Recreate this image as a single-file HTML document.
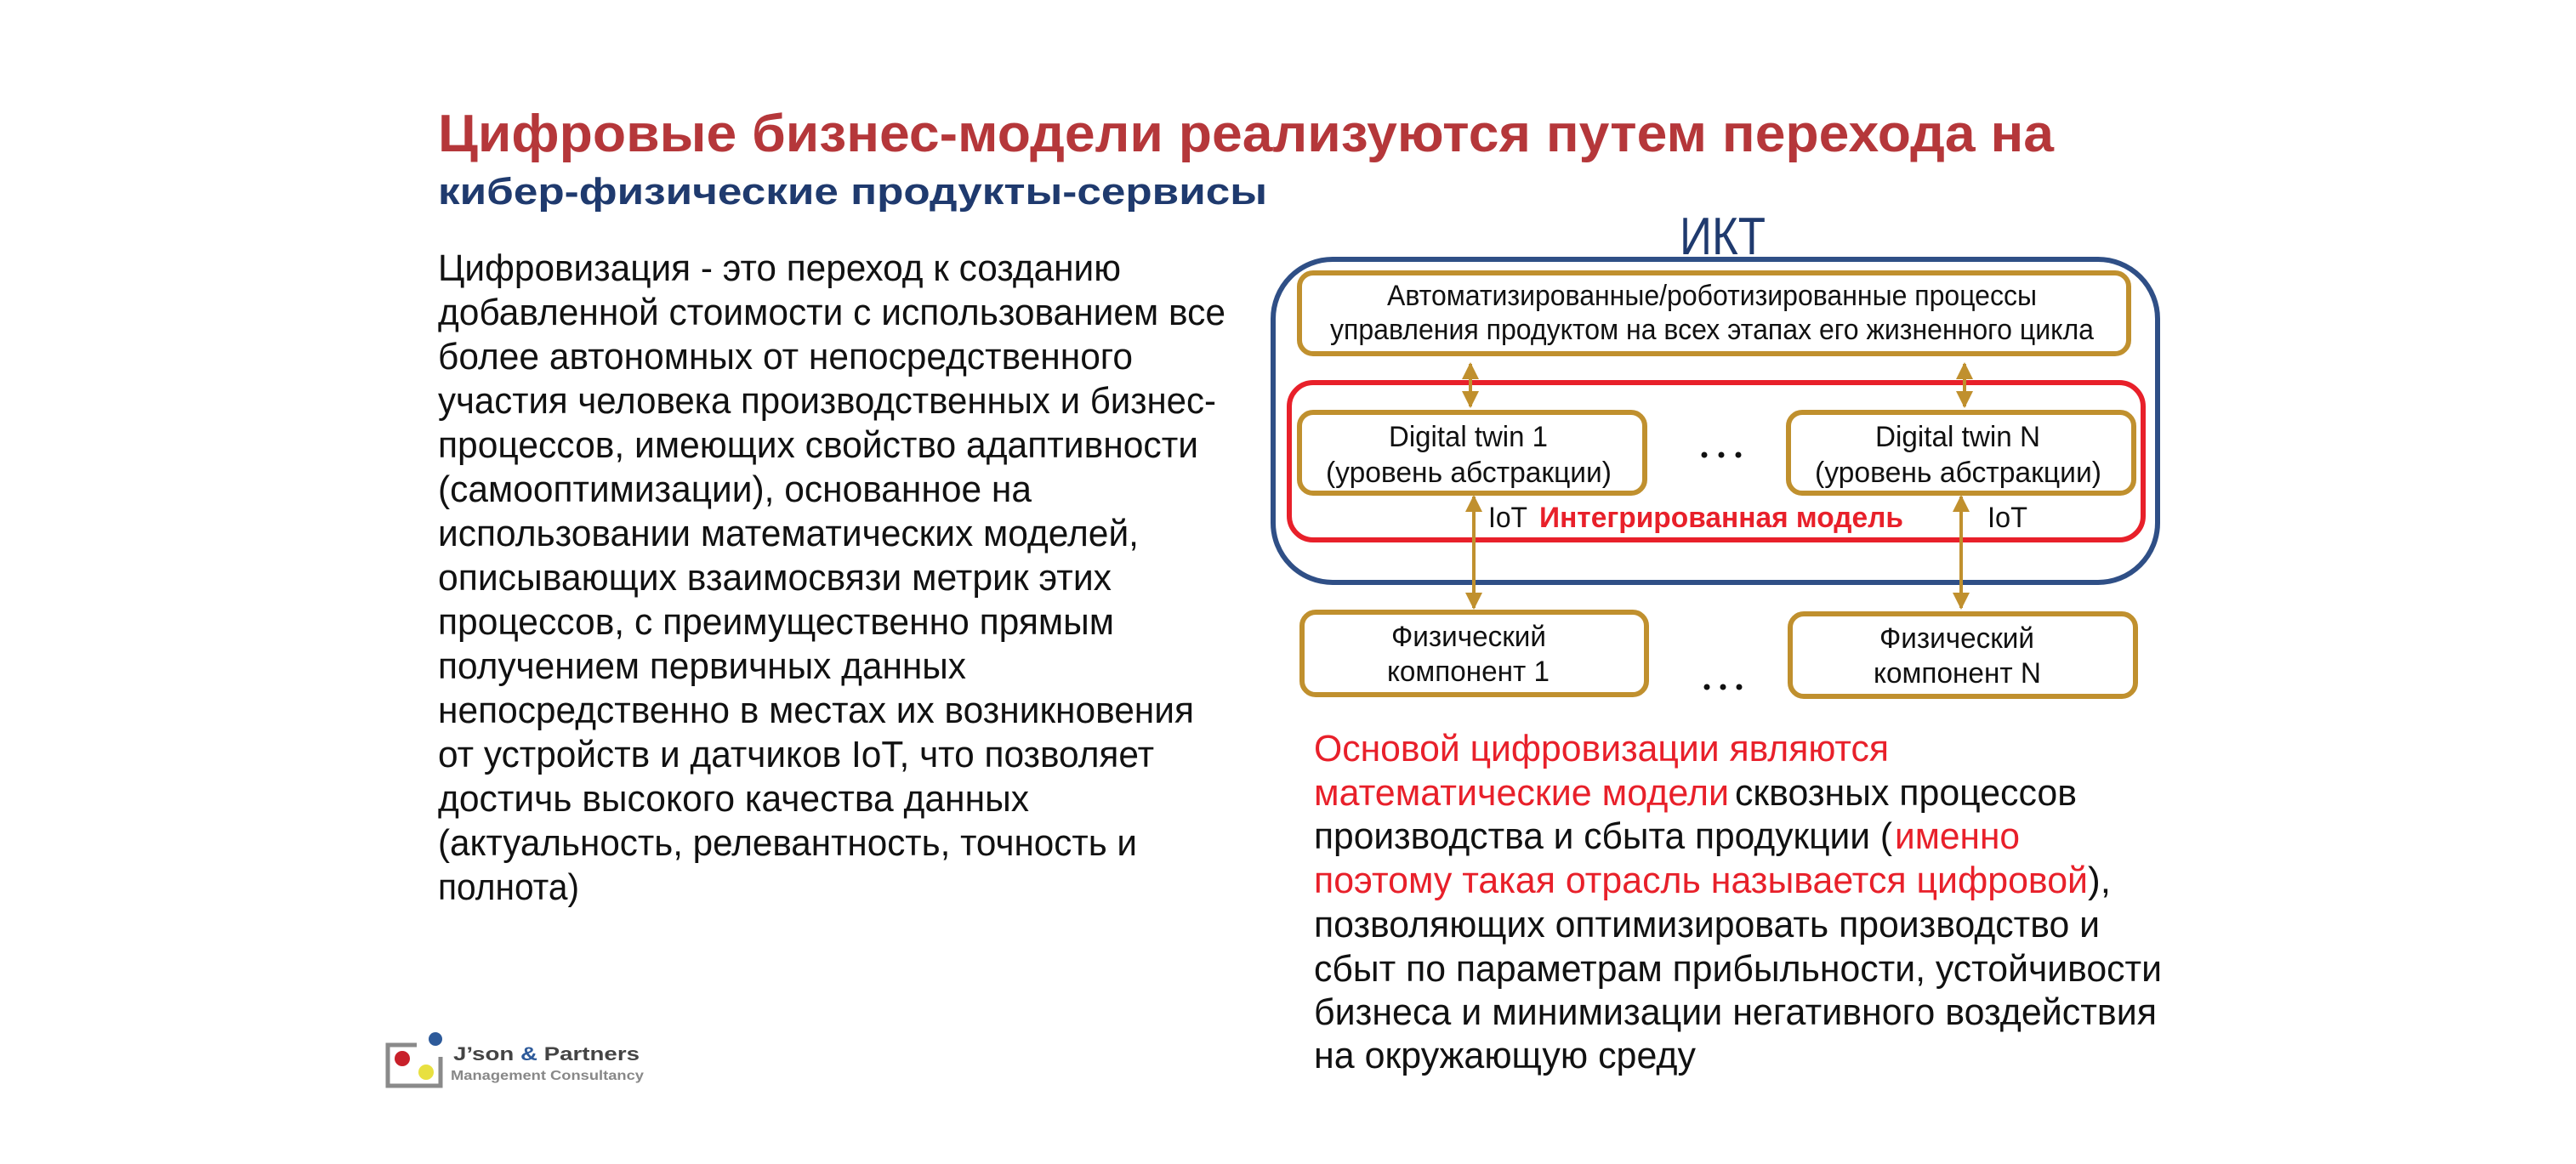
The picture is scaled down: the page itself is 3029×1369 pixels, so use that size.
<!DOCTYPE html>
<html><head><meta charset="utf-8"><style>
html,body{margin:0;padding:0;background:#fff;}
svg{display:block;}
</style></head><body>
<svg width="3029" height="1369" viewBox="0 0 3029 1369" xmlns="http://www.w3.org/2000/svg">
<defs>
<marker id="ah" viewBox="0 0 10 10" refX="9" refY="5" markerWidth="5" markerHeight="5.5" orient="auto-start-reverse" markerUnits="strokeWidth"><path d="M0,0 L10,5 L0,10 z" fill="#c0902e"/></marker>
</defs>
<rect width="3029" height="1369" fill="#fff"/>
<g font-family="Liberation Sans, sans-serif" font-weight="bold">
<text x="515" y="178" font-size="62" fill="#b5373a" textLength="1900" lengthAdjust="spacingAndGlyphs">Цифровые бизнес-модели реализуются путем перехода на</text>
<text x="515" y="240" font-size="44" fill="#1f3a6e" textLength="975" lengthAdjust="spacingAndGlyphs">кибер-физические продукты-сервисы</text>
</g>
<g font-family="Liberation Sans, sans-serif" font-size="44" fill="#111">
<text x="515" y="330" textLength="803" lengthAdjust="spacingAndGlyphs">Цифровизация - это переход к созданию</text>
<text x="515" y="382" textLength="926" lengthAdjust="spacingAndGlyphs">добавленной стоимости с использованием все</text>
<text x="515" y="434" textLength="817" lengthAdjust="spacingAndGlyphs">более автономных от непосредственного</text>
<text x="515" y="486" textLength="915" lengthAdjust="spacingAndGlyphs">участия человека производственных и бизнес-</text>
<text x="515" y="538" textLength="894" lengthAdjust="spacingAndGlyphs">процессов, имеющих свойство адаптивности</text>
<text x="515" y="590" textLength="698" lengthAdjust="spacingAndGlyphs">(самооптимизации), основанное на</text>
<text x="515" y="642" textLength="824" lengthAdjust="spacingAndGlyphs">использовании математических моделей,</text>
<text x="515" y="694" textLength="792" lengthAdjust="spacingAndGlyphs">описывающих взаимосвязи метрик этих</text>
<text x="515" y="746" textLength="795" lengthAdjust="spacingAndGlyphs">процессов, с преимущественно прямым</text>
<text x="515" y="798" textLength="621" lengthAdjust="spacingAndGlyphs">получением первичных данных</text>
<text x="515" y="850" textLength="889" lengthAdjust="spacingAndGlyphs">непосредственно в местах их возникновения</text>
<text x="515" y="902" textLength="842" lengthAdjust="spacingAndGlyphs">от устройств и датчиков IoT, что позволяет</text>
<text x="515" y="954" textLength="695" lengthAdjust="spacingAndGlyphs">достичь высокого качества данных</text>
<text x="515" y="1006" textLength="822" lengthAdjust="spacingAndGlyphs">(актуальность, релевантность, точность и</text>
<text x="515" y="1058" textLength="166" lengthAdjust="spacingAndGlyphs">полнота)</text>
</g>
<text x="1975" y="299" font-family="Liberation Sans, sans-serif" font-size="62" fill="#1f3a6e" textLength="101" lengthAdjust="spacingAndGlyphs">ИКТ</text>
<rect x="1497" y="305" width="1040" height="380" rx="70" fill="none" stroke="#2f4f86" stroke-width="6"/>
<rect x="1528" y="321" width="975" height="95" rx="16" fill="none" stroke="#c0902e" stroke-width="6"/>
<rect x="1516" y="450" width="1004" height="185" rx="28" fill="none" stroke="#e8202a" stroke-width="6"/>
<rect x="1528" y="485" width="406" height="95" rx="16" fill="none" stroke="#c0902e" stroke-width="6"/>
<rect x="2103" y="485" width="406" height="95" rx="16" fill="none" stroke="#c0902e" stroke-width="6"/>
<rect x="1531" y="720" width="405" height="97" rx="16" fill="none" stroke="#c0902e" stroke-width="6"/>
<rect x="2105" y="722" width="406" height="97" rx="16" fill="none" stroke="#c0902e" stroke-width="6"/>
<g stroke="#c0902e" stroke-width="4" marker-start="url(#ah)" marker-end="url(#ah)">
<line x1="1729" y1="428" x2="1729" y2="478"/>
<line x1="2310" y1="428" x2="2310" y2="478"/>
<line x1="1733" y1="584" x2="1733" y2="715"/>
<line x1="2306" y1="584" x2="2306" y2="715"/>
</g>
<g font-family="Liberation Sans, sans-serif" font-size="34" fill="#111">
<text x="1631" y="359" textLength="764" lengthAdjust="spacingAndGlyphs">Автоматизированные/роботизированные процессы</text>
<text x="1564" y="399" textLength="898" lengthAdjust="spacingAndGlyphs">управления продуктом на всех этапах его жизненного цикла</text>
<text x="1633" y="525" textLength="187" lengthAdjust="spacingAndGlyphs">Digital twin 1</text>
<text x="1559" y="567" textLength="336" lengthAdjust="spacingAndGlyphs">(уровень абстракции)</text>
<text x="2205" y="525" textLength="194" lengthAdjust="spacingAndGlyphs">Digital twin N</text>
<text x="2134" y="567" textLength="337" lengthAdjust="spacingAndGlyphs">(уровень абстракции)</text>
<text x="1636" y="760" textLength="182" lengthAdjust="spacingAndGlyphs">Физический</text>
<text x="1631" y="801" textLength="191" lengthAdjust="spacingAndGlyphs">компонент 1</text>
<text x="2210" y="762" textLength="182" lengthAdjust="spacingAndGlyphs">Физический</text>
<text x="2203" y="803" textLength="197" lengthAdjust="spacingAndGlyphs">компонент N</text>
<text x="1750" y="620" textLength="46" lengthAdjust="spacingAndGlyphs">IoT</text>
<text x="2337" y="620" textLength="47" lengthAdjust="spacingAndGlyphs">IoT</text>
<text x="1810" y="620" font-weight="bold" fill="#e8202a" textLength="428" lengthAdjust="spacingAndGlyphs">Интегрированная модель</text>
</g>
<g fill="#111">
<circle cx="2004" cy="535" r="3.5"/><circle cx="2024" cy="535" r="3.5"/><circle cx="2044" cy="535" r="3.5"/>
<circle cx="2007" cy="808" r="3.5"/><circle cx="2026" cy="808" r="3.5"/><circle cx="2045" cy="808" r="3.5"/>
</g>
<g font-family="Liberation Sans, sans-serif" font-size="44" fill="#111">
<text x="1545" y="895" fill="#e8202a" textLength="676" lengthAdjust="spacingAndGlyphs">Основой цифровизации являются</text>
<text x="1545" y="947"><tspan fill="#e8202a" textLength="488" lengthAdjust="spacingAndGlyphs">математические модели</tspan><tspan x="2040" textLength="402" lengthAdjust="spacingAndGlyphs">сквозных процессов</tspan></text>
<text x="1545" y="998"><tspan textLength="680" lengthAdjust="spacingAndGlyphs">производства и сбыта продукции (</tspan><tspan x="2228" fill="#e8202a" textLength="147" lengthAdjust="spacingAndGlyphs">именно</tspan></text>
<text x="1545" y="1050"><tspan fill="#e8202a" textLength="910" lengthAdjust="spacingAndGlyphs">поэтому такая отрасль называется цифровой</tspan><tspan x="2455" textLength="27" lengthAdjust="spacingAndGlyphs">),</tspan></text>
<text x="1545" y="1102" textLength="924" lengthAdjust="spacingAndGlyphs">позволяющих оптимизировать производство и</text>
<text x="1545" y="1154" textLength="997" lengthAdjust="spacingAndGlyphs">сбыт по параметрам прибыльности, устойчивости</text>
<text x="1545" y="1205" textLength="991" lengthAdjust="spacingAndGlyphs">бизнеса и минимизации негативного воздействия</text>
<text x="1545" y="1256" textLength="449" lengthAdjust="spacingAndGlyphs">на окружающую среду</text>
</g>
<path d="M490,1229 L456,1229 L456,1277 L518,1277 L518,1243" fill="none" stroke="#8a8a8a" stroke-width="5"/>
<circle cx="512" cy="1222" r="8" fill="#2d5a9a"/>
<circle cx="473" cy="1245" r="9" fill="#c8202a"/>
<circle cx="501" cy="1261" r="9" fill="#e8e040"/>
<text x="533" y="1247" font-family="Liberation Sans, sans-serif" font-weight="bold" font-size="22" fill="#444" textLength="219" lengthAdjust="spacingAndGlyphs">J’son <tspan fill="#2d5a9a">&amp;</tspan> Partners</text>
<text x="530" y="1270" font-family="Liberation Sans, sans-serif" font-weight="bold" font-size="16" fill="#888" textLength="227" lengthAdjust="spacingAndGlyphs">Management Consultancy</text>
</svg>
</body></html>
